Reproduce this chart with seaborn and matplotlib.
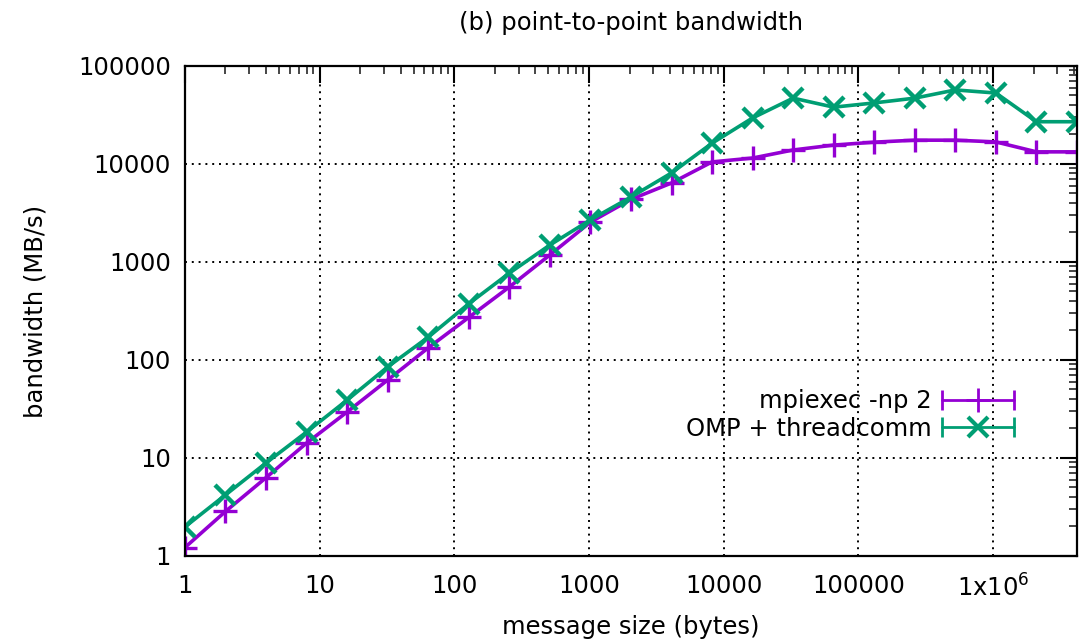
import numpy as np
import pandas as pd
import matplotlib
matplotlib.use("Agg")
import matplotlib.pyplot as plt
import seaborn as sns
from matplotlib.lines import Line2D
from matplotlib.legend_handler import HandlerLine2D, HandlerTuple
from matplotlib.ticker import LogLocator, NullFormatter

sizes = [1, 2, 4, 8, 16, 32, 64, 128, 256, 512, 1024, 2048, 4096, 8192, 16384,
         32768, 65536, 131072, 262144, 524288, 1048576, 2097152, 4194304]
mpiexec_bw = [1.22, 2.85, 6.3, 14.2, 29.5, 62.5, 133, 272, 556, 1180, 2550, 4350,
              6400, 10500, 11500, 13900, 15600, 16700, 17500, 17500, 16800, 13300, 13300]
omp_bw = [1.98, 4.2, 8.9, 18.4, 39, 85, 171, 375, 770, 1490, 2690, 4600,
          8100, 16300, 29500, 47000, 38000, 42000, 47000, 57000, 53000, 27000, 27000]
series_names = ["mpiexec -np 2", "OMP + threadcomm"]
colors = ["#9400D3", "#009E73"]
xtick_vals = [1, 10, 100, 1000, 10000, 100000, 1000000]
xtick_labels = ["1", "10", "100", "1000", "10000", "100000", "1x10$^{6}$"]
ytick_vals = [1, 10, 100, 1000, 10000, 100000]
ytick_labels = ["1", "10", "100", "1000", "10000", "100000"]

sns.set_style("white")
plt.rcParams["font.family"] = ["DejaVu Sans"]
plt.rcParams["mathtext.fontset"] = "dejavusans"
plt.rcParams["text.color"] = "black"
plt.rcParams["axes.labelcolor"] = "black"

FS = 17.5

df = pd.DataFrame({
    "size": sizes * 2,
    "bw": mpiexec_bw + omp_bw,
    "series": [series_names[0]] * len(sizes) + [series_names[1]] * len(sizes),
})

fig = plt.figure(figsize=(10.86, 6.42), dpi=100)
ax = fig.add_axes([0.1703, 0.134, 0.8214, 0.7632])

sns.lineplot(data=df, x="size", y="bw", hue="series", style="series",
             hue_order=series_names, style_order=series_names,
             palette=colors, markers=["+", "x"], dashes=False, ax=ax,
             legend=False, lw=2.6, estimator=None)
marker_sizes = [17, 15]
marker_mews = [2.4, 3.2]
for line, ms, mew, c in zip(ax.lines, marker_sizes, marker_mews, colors):
    line.set_markersize(ms)
    line.set_markeredgewidth(mew)
    line.set_markeredgecolor(c)
    line.set_linestyle("-")

ax.set_xscale("log")
ax.set_yscale("log")
ax.set_xlim(1, 4194304)
ax.set_ylim(1, 100000)

ax.set_xticks(xtick_vals)
ax.set_xticklabels(xtick_labels)
ax.set_yticks(ytick_vals)
ax.set_yticklabels(ytick_labels)
ax.xaxis.set_minor_locator(LogLocator(base=10, subs=np.arange(2, 10)))
ax.yaxis.set_minor_locator(LogLocator(base=10, subs=np.arange(2, 10)))
ax.xaxis.set_minor_formatter(NullFormatter())
ax.yaxis.set_minor_formatter(NullFormatter())

ax.tick_params(which="major", direction="in", length=12, width=1.5, top=True, right=True,
               labelsize=FS, colors="black")
ax.tick_params(which="minor", direction="in", length=6, width=1.2, top=True, right=True)
ax.tick_params(axis="x", which="major", pad=13)
ax.tick_params(axis="y", which="major", pad=10)

ax.grid(True, which="major", color="black", linestyle=(0, (1, 2.5)), linewidth=1.4)
for sp in ax.spines.values():
    sp.set_visible(True)
    sp.set_color("black")
    sp.set_linewidth(1.6)

ax.set_xlabel("message size (bytes)", fontsize=FS, labelpad=10)
ax.set_ylabel("bandwidth (MB/s)", fontsize=FS, labelpad=22)
ax.set_title("(b) point-to-point bandwidth", fontsize=FS, pad=26)

# gnuplot-style legend keys: line with end caps and a centre marker
handles = []
hmap = {}
for c, m, ms, mew in [(colors[0], "+", 17, 2.0), (colors[1], "x", 15, 3.0)]:
    caps = Line2D([], [], color=c, lw=2.0, marker="|", markersize=14, mew=2.0)
    centre = Line2D([], [], color=c, lw=0, marker=m, markersize=ms, mew=mew)
    hmap[caps] = HandlerLine2D(numpoints=2)
    hmap[centre] = HandlerLine2D(numpoints=1)
    handles.append((caps, centre))
hmap[tuple] = HandlerTuple(ndivide=1, pad=0)
leg = ax.legend(handles, series_names, handler_map=hmap, loc="upper right",
                bbox_to_anchor=(0.949, 0.36), frameon=False, fontsize=FS,
                markerfirst=False, handlelength=3.6, handletextpad=0.1,
                labelspacing=0.15, borderaxespad=0)
for t in leg.get_texts():
    t.set_ha("right")

fig.savefig("out.png", dpi=100)
